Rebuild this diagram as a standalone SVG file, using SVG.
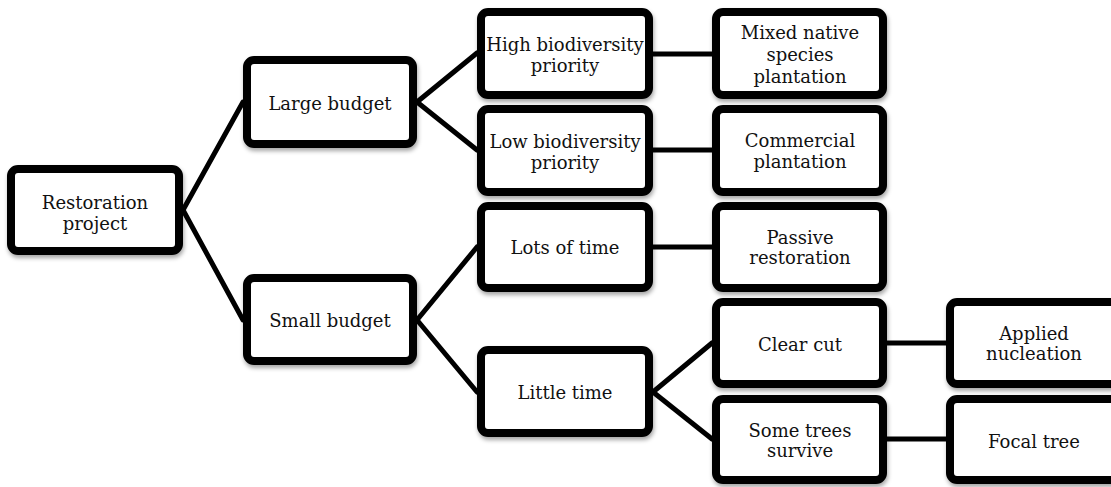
<svg xmlns="http://www.w3.org/2000/svg" width="1111" height="487" viewBox="0 0 1111 487">
  <defs>
    <filter id="sh" x="-10%" y="-10%" width="120%" height="130%">
      <feDropShadow dx="1" dy="3" stdDeviation="2" flood-color="#000" flood-opacity="0.35"/>
    </filter>
  </defs>
  <style>
    .box { fill: #fff; stroke: #000; stroke-width: 8; filter: url(#sh); }
    .lbl { font-family: "DejaVu Serif", "Liberation Serif", serif; font-size: 18px; fill: #111; text-anchor: middle; dominant-baseline: central; }
    .edge { stroke: #000; stroke-width: 5; fill: none; stroke-linecap: round; }
  </style>
  <rect width="1111" height="487" fill="#fff"/>

  <g id="connectors">
    <line class="edge" x1="183" y1="210" x2="243" y2="102"/>
    <line class="edge" x1="183" y1="210" x2="243" y2="320"/>
    <line class="edge" x1="417" y1="102" x2="477" y2="53"/>
    <line class="edge" x1="417" y1="102" x2="477" y2="150"/>
    <line class="edge" x1="417" y1="320" x2="477" y2="247"/>
    <line class="edge" x1="417" y1="320" x2="477" y2="392"/>
    <line class="edge" x1="653" y1="54" x2="712" y2="54"/>
    <line class="edge" x1="653" y1="150" x2="712" y2="150"/>
    <line class="edge" x1="653" y1="247" x2="712" y2="247"/>
    <line class="edge" x1="653" y1="392" x2="712" y2="343"/>
    <line class="edge" x1="653" y1="392" x2="712" y2="439"/>
    <line class="edge" x1="887" y1="343" x2="946" y2="343"/>
    <line class="edge" x1="887" y1="439" x2="946" y2="439"/>
  </g>

  <g id="restoration-project">
    <rect class="box" x="11" y="169" width="168" height="82" rx="7"/>
    <text class="lbl" x="95" y="202">Restoration</text>
    <text class="lbl" x="95" y="223">project</text>
  </g>
  <g id="large-budget">
    <rect class="box" x="247" y="60" width="166" height="84" rx="7"/>
    <text class="lbl" x="330" y="103">Large budget</text>
  </g>
  <g id="small-budget">
    <rect class="box" x="247" y="278" width="166" height="83" rx="7"/>
    <text class="lbl" x="330" y="320">Small budget</text>
  </g>
  <g id="high-biodiversity">
    <rect class="box" x="481" y="12" width="168" height="83" rx="7"/>
    <text class="lbl" x="565" y="44">High biodiversity</text>
    <text class="lbl" x="565" y="65">priority</text>
  </g>
  <g id="low-biodiversity">
    <rect class="box" x="481" y="109" width="168" height="83" rx="7"/>
    <text class="lbl" x="565" y="141">Low biodiversity</text>
    <text class="lbl" x="565" y="162">priority</text>
  </g>
  <g id="lots-of-time">
    <rect class="box" x="481" y="206" width="168" height="82" rx="7"/>
    <text class="lbl" x="565" y="247">Lots of time</text>
  </g>
  <g id="little-time">
    <rect class="box" x="481" y="350" width="168" height="83" rx="7"/>
    <text class="lbl" x="565" y="392">Little time</text>
  </g>
  <g id="mixed-native">
    <rect class="box" x="716" y="12" width="167" height="83" rx="7"/>
    <text class="lbl" x="800" y="32">Mixed native</text>
    <text class="lbl" x="800" y="54">species</text>
    <text class="lbl" x="800" y="76">plantation</text>
  </g>
  <g id="commercial">
    <rect class="box" x="716" y="109" width="167" height="83" rx="7"/>
    <text class="lbl" x="800" y="140">Commercial</text>
    <text class="lbl" x="800" y="161">plantation</text>
  </g>
  <g id="passive">
    <rect class="box" x="716" y="206" width="167" height="82" rx="7"/>
    <text class="lbl" x="800" y="237">Passive</text>
    <text class="lbl" x="800" y="257">restoration</text>
  </g>
  <g id="clear-cut">
    <rect class="box" x="716" y="302" width="167" height="82" rx="7"/>
    <text class="lbl" x="800" y="344">Clear cut</text>
  </g>
  <g id="some-trees">
    <rect class="box" x="716" y="399" width="167" height="81" rx="7"/>
    <text class="lbl" x="800" y="430">Some trees</text>
    <text class="lbl" x="800" y="450">survive</text>
  </g>
  <g id="applied-nucleation">
    <rect class="box" x="950" y="302" width="168" height="82" rx="7"/>
    <text class="lbl" x="1034" y="333">Applied</text>
    <text class="lbl" x="1034" y="353">nucleation</text>
  </g>
  <g id="focal-tree">
    <rect class="box" x="950" y="399" width="168" height="81" rx="7"/>
    <text class="lbl" x="1034" y="441">Focal tree</text>
  </g>
</svg>
